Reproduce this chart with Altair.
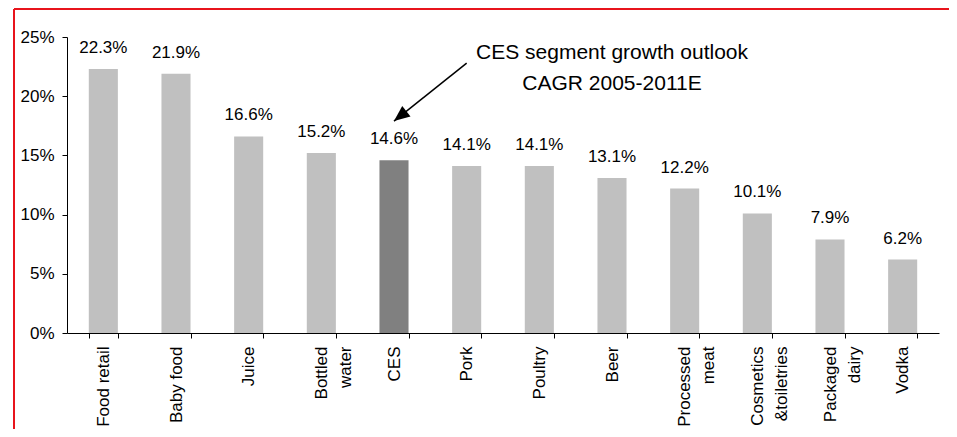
import altair as alt
import pandas as pd

categories = ["Food retail", "Baby food", "Juice", "Bottled\nwater", "CES", "Pork",
              "Poultry", "Beer", "Processed\nmeat", "Cosmetics\n&toiletries",
              "Packaged\ndairy", "Vodka"]
values = [22.3, 21.9, 16.6, 15.2, 14.6, 14.1, 14.1, 13.1, 12.2, 10.1, 7.9, 6.2]
highlight = "CES"
y_ticks = [0, 5, 10, 15, 20, 25]

annot_text = "CES segment growth outlook\nCAGR 2005-2011E"
annot_cat = "Beer"
annot_y = 23.1
arrow_cats = ["CES", "Pork"]
arrow_vals = [17.9, 22.8]

FONT = "Liberation Sans"
W, H = 872, 296

df = pd.DataFrame({"cat": categories, "val": values})
df["label"] = df["val"].map(lambda v: f"{v:.1f}%")
df["hl"] = df["cat"] == highlight

xenc = alt.X("cat:N", sort=categories, title=None,
             scale=alt.Scale(paddingInner=0.6, paddingOuter=0.3),
             axis=alt.Axis(labelAngle=270, labelExpr="split(datum.label, '\\n')",
                           labelFont=FONT, labelFontSize=17, labelColor="#000",
                           labelPadding=8, labelLineHeight=24,
                           tickBand="extent", tickSize=5, tickColor="#000",
                           domainColor="#000", labelAlign="right",
                           labelBaseline="middle"))
yenc = alt.Y("val:Q", title=None,
             scale=alt.Scale(domain=[0, 25], nice=False),
             axis=alt.Axis(values=y_ticks, labelExpr="datum.value + '%'", grid=False,
                           labelFont=FONT, labelFontSize=17, labelColor="#000",
                           labelPadding=8, tickSize=5, tickColor="#000",
                           domainColor="#000"))

base = alt.Chart(df)
bars = base.mark_bar().encode(
    x=xenc, y=yenc,
    color=alt.condition("datum.hl", alt.value("#808080"), alt.value("#C0C0C0")))
labels = base.mark_text(font=FONT, fontSize=17, baseline="alphabetic", dy=-16,
                        color="#000").encode(
    x=alt.X("cat:N", sort=categories), y="val:Q", text="label:N")

annot_df = pd.DataFrame({"cat": [annot_cat], "val": [annot_y], "t": [annot_text]})
annot = alt.Chart(annot_df).mark_text(font=FONT, fontSize=21, lineBreak="\n",
                                      lineHeight=31, align="center",
                                      baseline="alphabetic", color="#000").encode(
    x=alt.X("cat:N", sort=categories), y="val:Q", text="t:N")

arrow_df = pd.DataFrame({"cat": arrow_cats, "val": arrow_vals})
arrow_line = alt.Chart(arrow_df).mark_line(color="#000", strokeWidth=1.5).encode(
    x=alt.X("cat:N", sort=categories), y="val:Q")
head_df = arrow_df.iloc[[0]]
arrow_head = alt.Chart(head_df).mark_point(
    shape="M0,0L-0.42,1L0.42,1Z", filled=True, color="#000", opacity=1,
    size=1000, angle=231.5).encode(
    x=alt.X("cat:N", sort=categories), y="val:Q")

one = pd.DataFrame({"a": [0]})
red_top = alt.Chart(one).mark_rule(color="#E8141C", strokeWidth=2).encode(
    x=alt.value(-53), x2=alt.value(W + 10), y=alt.value(-28))
red_left = alt.Chart(one).mark_rule(color="#E8141C", strokeWidth=2).encode(
    x=alt.value(-53), y=alt.value(-28), y2=alt.value(H + 96))

chart = alt.layer(bars, labels, annot, arrow_line, arrow_head, red_top, red_left).properties(
    width=W, height=H, background="white",
    autosize=alt.AutoSizeParams(type="none"),
    padding={"left": 59, "top": 29, "right": 10, "bottom": 96},
).configure_view(stroke=None)

chart.save("out.html", embed_options={"renderer": "svg", "actions": False})
